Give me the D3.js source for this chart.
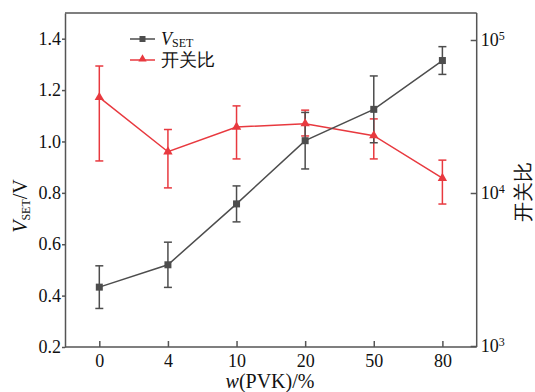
<!DOCTYPE html>
<html>
<head>
<meta charset="utf-8">
<script src="https://cdn.jsdelivr.net/npm/d3@7"></script>
<style>
  body { margin: 0; background: #fff; }
  svg text { font-family: "Liberation Serif", "DejaVu Serif", serif; }
</style>
</head>
<body>
<svg id="chart" width="535" height="392"></svg>
<script>
// data
const categories = ["0", "4", "10", "20", "50", "80"];
const vset = [0.433, 0.52, 0.757, 1.003, 1.125, 1.315];
const vsetErr = [0.083, 0.088, 0.07, 0.11, 0.13, 0.054];
const ratio = [42200, 18600, 27000, 28400, 23700, 12500];
const ratioHi = [67600, 26000, 37100, 34800, 30500, 16400];
const ratioLo = [16200, 10800, 16700, 23600, 16700, 8470];
const leftTicks = [0.2, 0.4, 0.6, 0.8, 1.0, 1.2, 1.4];
const rightTicks = [1e3, 1e4, 1e5];

const black = "#4d4d4d", red = "#e8393f", axisCol = "#555";
const pLeft = 65, pRight = 476.7, pTop = 13, pBottom = 347;

const svg = d3.select("#chart");

const x = d3.scalePoint().domain(categories).range([pLeft, pRight]).padding(0.5);
const yL = d3.scaleLinear().domain([0.2, 1.5]).range([pBottom, pTop]);
const yR = d3.scaleLog().domain([1e3, 1e5]).range([346, 40]);   // extrapolates past the ends

// frame
svg.append("line").attr("x1", pLeft).attr("x2", pRight).attr("y1", pTop).attr("y2", pTop)
  .attr("stroke", axisCol).attr("stroke-width", 1.5);

// left axis
const gL = svg.append("g").attr("transform", `translate(${pLeft},0)`)
  .call(d3.axisLeft(yL).tickValues(leftTicks).tickSize(3).tickSizeOuter(0).tickPadding(1).tickFormat(d3.format(".1f")));

// right axis (ticks inward)
const gR = svg.append("g").attr("transform", `translate(${pRight},0)`)
  .call(d3.axisRight(yR).tickValues(rightTicks).tickSize(-6).tickSizeOuter(0).tickPadding(4));
gR.select(".domain").attr("d", `M0,${pBottom}V${pTop}`);
gR.selectAll(".tick text").each(function(d) {
  const t = d3.select(this).text(null);
  t.append("tspan").text("10");
  t.append("tspan").attr("dy", "-0.55em").attr("font-size", 12).text(Math.round(Math.log10(d)));
});

// bottom axis (ticks inward)
const gB = svg.append("g").attr("transform", `translate(0,${pBottom})`)
  .call(d3.axisBottom(x).tickSize(-6).tickSizeOuter(0).tickPadding(7));
gB.select(".domain").attr("d", `M${pLeft},0H${pRight}`);

[gL, gR, gB].forEach(g => {
  g.selectAll("path, line").attr("stroke", axisCol).attr("stroke-width", 1.5);
  g.selectAll("text").attr("font-size", 18).attr("fill", "#111")
    .attr("font-family", "Liberation Serif");
});

// error bars
function errBars(col, ys) {
  const g = svg.append("g").attr("stroke", col).attr("stroke-width", 1.5);
  ys.forEach(([c, lo, hi]) => {
    const cx = x(c);
    g.append("line").attr("x1", cx).attr("x2", cx).attr("y1", lo).attr("y2", hi);
    g.append("line").attr("x1", cx - 4).attr("x2", cx + 4).attr("y1", lo).attr("y2", lo);
    g.append("line").attr("x1", cx - 4).attr("x2", cx + 4).attr("y1", hi).attr("y2", hi);
  });
}

errBars(red, categories.map((c, i) => [c, yR(ratioLo[i]), yR(ratioHi[i])]));
errBars(black, categories.map((c, i) => [c, yL(vset[i] - vsetErr[i]), yL(vset[i] + vsetErr[i])]));

// lines
const redLine = d3.line().x((d, i) => x(categories[i])).y(d => yR(d));
svg.append("path").attr("d", redLine(ratio)).attr("fill", "none").attr("stroke", red).attr("stroke-width", 1.5);
const blkLine = d3.line().x((d, i) => x(categories[i])).y(d => yL(d));
svg.append("path").attr("d", blkLine(vset)).attr("fill", "none").attr("stroke", black).attr("stroke-width", 1.5);

// markers
const tri = d3.symbol().type(d3.symbolTriangle).size(38);
svg.selectAll(".tri").data(ratio).enter().append("path")
  .attr("d", tri).attr("fill", red)
  .attr("transform", (d, i) => `translate(${x(categories[i])},${yR(d)})`);
svg.selectAll(".sq").data(vset).enter().append("rect")
  .attr("x", (d, i) => x(categories[i]) - 3.5).attr("y", d => yL(d) - 3.5)
  .attr("width", 7).attr("height", 7).attr("fill", black);

// legend
const lg = svg.append("g");
lg.append("line").attr("x1", 130).attr("x2", 155).attr("y1", 39).attr("y2", 39).attr("stroke", black).attr("stroke-width", 1.5);
lg.append("rect").attr("x", 139.5).attr("y", 36).attr("width", 6).attr("height", 6).attr("fill", black);
const lt = lg.append("text").attr("x", 161).attr("y", 45).attr("font-size", 18).attr("fill", "#111");
lt.append("tspan").attr("font-style", "italic").text("V");
lt.append("tspan").attr("font-size", 12).attr("dy", 2).text("SET");
lg.append("line").attr("x1", 130).attr("x2", 155).attr("y1", 60).attr("y2", 60).attr("stroke", red).attr("stroke-width", 1.5);
lg.append("path").attr("d", d3.symbol().type(d3.symbolTriangle).size(30)).attr("fill", red)
  .attr("transform", "translate(142.5,59)");
lg.append("text").attr("x", 161).attr("y", 66).attr("font-size", 18).attr("fill", "#111")
  .attr("font-family", "Noto Sans CJK SC").attr("font-weight", 300).text("开关比");

// axis titles
const yt = svg.append("text").attr("transform", "translate(27,206) rotate(-90)")
  .attr("text-anchor", "middle").attr("font-size", 20).attr("fill", "#111");
yt.append("tspan").attr("font-style", "italic").text("V");
yt.append("tspan").attr("font-size", 12).attr("dy", 3).text("SET");
yt.append("tspan").attr("dy", -3).text("/V");

svg.append("text").attr("transform", "translate(530,192) rotate(-90)")
  .attr("text-anchor", "middle").attr("font-size", 20).attr("fill", "#111")
  .attr("font-family", "Noto Sans CJK SC").attr("font-weight", 300).text("开关比");

const xt = svg.append("text").attr("x", 270).attr("y", 388).attr("text-anchor", "middle")
  .attr("font-size", 20).attr("fill", "#111");
xt.append("tspan").attr("font-style", "italic").text("w");
xt.append("tspan").text("(PVK)/%");
</script>
</body>
</html>
